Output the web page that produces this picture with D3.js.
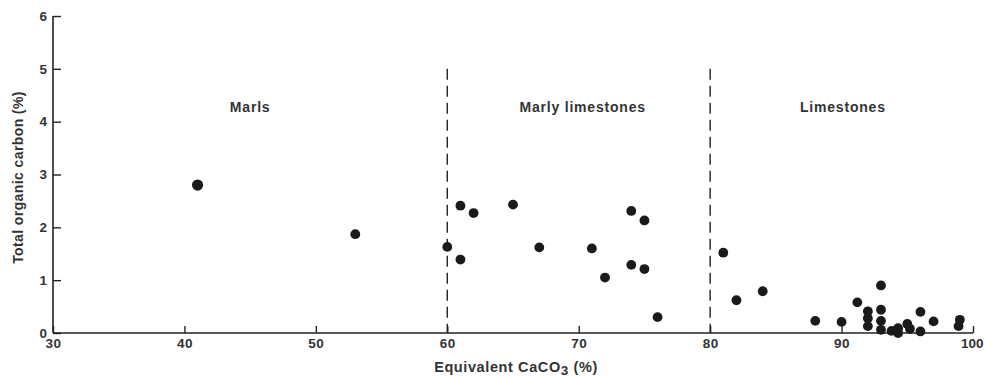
<!DOCTYPE html>
<html>
<head>
<meta charset="utf-8">
<script src="https://cdn.jsdelivr.net/npm/d3@7"></script>
<style>
  html, body { margin: 0; padding: 0; background: #fff; }
  svg { display: block; font-family: "Liberation Sans", Arial, sans-serif; }
</style>
</head>
<body>
<svg id="chart" width="984" height="379"></svg>
<script>
// Data
const caco3 = [41, 53, 60, 61, 62, 61, 65, 67, 71, 72, 74, 75, 74, 75, 76,
  81, 82, 84, 88, 90, 91.2, 92, 92, 92, 93, 93, 93, 93, 93.8, 94.3, 94.3, 95, 95.2, 96, 96, 97, 99, 98.9];
const toc = [2.8, 1.87, 1.63, 2.41, 2.27, 1.39, 2.43, 1.62, 1.60, 1.05, 2.31, 2.13, 1.29, 1.21, 0.30,
  1.52, 0.62, 0.79, 0.23, 0.21, 0.58, 0.41, 0.28, 0.13, 0.90, 0.44, 0.23, 0.06, 0.04, 0.09, 0.0, 0.17, 0.08, 0.40, 0.03, 0.22, 0.25, 0.13];
const xTicks = [30, 40, 50, 60, 70, 80, 90, 100];
const yTicks = [0, 1, 2, 3, 4, 5, 6];
const boundaries = [60, 80];
const zoneLabels = ["Marls", "Marly limestones", "Limestones"];
const zoneCenters = [45.0, 70.3, 90.1];

const svg = d3.select("#chart");
const x = d3.scaleLinear().domain([30, 100]).range([53, 973]);
const y = d3.scaleLinear().domain([0, 6]).range([333, 16]);
const ink = "#222";
const txt = "#333";

// x axis
const xAxis = d3.axisBottom(x).tickValues(xTicks).tickSize(-7).tickPadding(5).tickFormat(d3.format("d"));
const gx = svg.append("g").attr("transform", `translate(0,${y(0)})`).call(xAxis);
gx.select(".domain").attr("stroke", ink).attr("stroke-width", 1.6).attr("d", `M${x(30)},0H${x(100)}`);
gx.selectAll(".tick line").attr("stroke", ink).attr("stroke-width", 1.4);
gx.selectAll(".tick text").attr("fill", txt).attr("font-size", 13.5).attr("font-weight", "bold")
  .attr("letter-spacing", 0.5);
// keep the last label inside the picture
gx.selectAll(".tick text").filter(d => d === 100)
  .attr("text-anchor", "end").attr("letter-spacing", 0).attr("x", 983 - x(100));

// y axis
const yAxis = d3.axisLeft(y).tickValues(yTicks).tickSize(-8).tickPadding(6).tickFormat(d3.format("d"));
const gy = svg.append("g").attr("transform", `translate(${x(30)},0)`).call(yAxis);
gy.select(".domain").attr("stroke", ink).attr("stroke-width", 1.6).attr("d", `M0,${y(6)}V${y(0)}`);
gy.selectAll(".tick line").attr("stroke", ink).attr("stroke-width", 1.4);
gy.selectAll(".tick text").attr("fill", txt).attr("font-size", 13.5).attr("font-weight", "bold");

// boundaries
svg.selectAll(".bound").data(boundaries).enter().append("line")
  .attr("x1", d => x(d)).attr("x2", d => x(d))
  .attr("y1", y(5)).attr("y2", y(0))
  .attr("stroke", ink).attr("stroke-width", 1.4)
  .attr("stroke-dasharray", "11,6");

// zone labels
svg.selectAll(".zone").data(zoneLabels).enter().append("text")
  .attr("x", (d, i) => x(zoneCenters[i])).attr("y", 112)
  .attr("text-anchor", "middle").attr("fill", txt)
  .attr("font-size", 14).attr("font-weight", "bold").attr("letter-spacing", 0.8)
  .text(d => d);

// points
svg.selectAll(".pt").data(caco3).enter().append("circle")
  .attr("cx", d => x(d)).attr("cy", (d, i) => y(toc[i]))
  .attr("r", (d, i) => i === 0 ? 5.6 : 4.9)
  .attr("fill", "#1a1a1a");

// axis titles
svg.append("text")
  .attr("transform", `translate(23,${(y(0) + y(6)) / 2 + 3}) rotate(-90)`)
  .attr("text-anchor", "middle").attr("fill", txt)
  .attr("font-size", 14).attr("font-weight", "bold").attr("letter-spacing", 0.4)
  .text("Total organic carbon (%)");

const xt = svg.append("text")
  .attr("x", 516).attr("y", 372)
  .attr("text-anchor", "middle").attr("fill", txt)
  .attr("font-size", 14.5).attr("font-weight", "bold").attr("letter-spacing", 0.6);
xt.append("tspan").text("Equivalent CaCO");
xt.append("tspan").attr("dy", 3).attr("font-size", 13.5).text("3");
xt.append("tspan").attr("dy", -3).text(" (%)");
</script>
</body>
</html>
